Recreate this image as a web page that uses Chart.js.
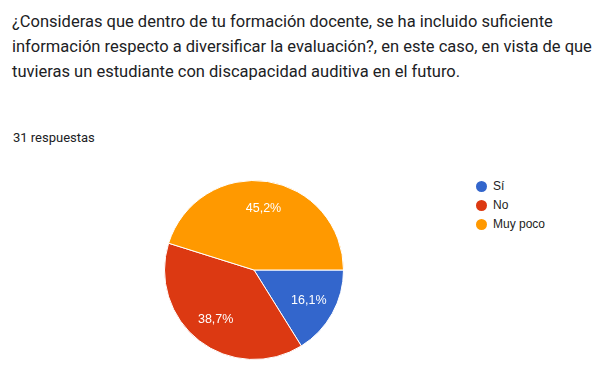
<!DOCTYPE html>
<html>
<head>
<meta charset="utf-8">
<script src="https://cdn.jsdelivr.net/npm/chart.js@4/dist/chart.umd.min.js"></script>
<style>
  body { margin: 0; width: 610px; height: 380px; background: #fff; position: relative; overflow: hidden; }
  .title { position: absolute; left: 12px; top: 9px; width: 598px; font: 16.5px Roboto, Arial, sans-serif; line-height: 25px; color: #202124; }
  .sub { position: absolute; left: 13px; top: 130px; font: 13px Roboto, Arial, sans-serif; color: #202124; }
  #wrap { position: absolute; left: 154px; top: 170px; width: 200px; height: 200px; }
  #legend { position: absolute; left: 476px; top: 177px; font: 12px Arial, sans-serif; color: #222; }
  #legend div { height: 19px; line-height: 19px; display: flex; align-items: center; }
  #legend span.dot { width: 11px; height: 11px; border-radius: 50%; margin-right: 6px; display: inline-block; }
</style>
</head>
<body>
<div class="title">¿Consideras que dentro de tu formación docente, se ha incluido suficiente<br>información respecto a diversificar la evaluación?, en este caso, en vista de que<br>tuvieras un estudiante con discapacidad auditiva en el futuro.</div>
<div class="sub">31 respuestas</div>
<div id="wrap"><canvas id="pie"></canvas></div>
<div id="legend"></div>
<script>
const labels = ['Sí', 'No', 'Muy poco'];
const counts = [5, 12, 14];
const colors = ['#3366cc', '#dc3912', '#ff9900'];

const total = counts.reduce((a, b) => a + b, 0);

// legend
const legend = document.getElementById('legend');
labels.forEach((l, i) => {
  const row = document.createElement('div');
  row.innerHTML = '<span class="dot" style="background:' + colors[i] + '"></span>' + l;
  legend.appendChild(row);
});

// percentage labels inside the slices
const sliceText = {
  id: 'sliceText',
  afterDatasetsDraw(chart) {
    const ctx = chart.ctx;
    const meta = chart.getDatasetMeta(0);
    ctx.save();
    ctx.fillStyle = '#fff';
    ctx.font = '12.5px Arial, sans-serif';
    ctx.textAlign = 'center';
    ctx.textBaseline = 'middle';
    meta.data.forEach((arc, i) => {
      const mid = (arc.startAngle + arc.endAngle) / 2;
      const r = arc.outerRadius * 0.7;
      const pct = (counts[i] / total * 100).toFixed(1).replace('.', ',') + '%';
      ctx.fillText(pct, arc.x + Math.cos(mid) * r, arc.y + Math.sin(mid) * r);
    });
    ctx.restore();
  }
};

new Chart(document.getElementById('pie'), {
  type: 'pie',
  data: {
    labels,
    datasets: [{
      data: counts,
      backgroundColor: colors,
      borderColor: '#fff',
      borderWidth: 1,
    }],
  },
  options: {
    responsive: true,
    maintainAspectRatio: false,
    animation: false,
    rotation: 90,
    layout: { padding: 10 },
    plugins: {
      legend: { display: false },
      tooltip: { enabled: false },
    },
  },
  plugins: [sliceText],
});
</script>
</body>
</html>
